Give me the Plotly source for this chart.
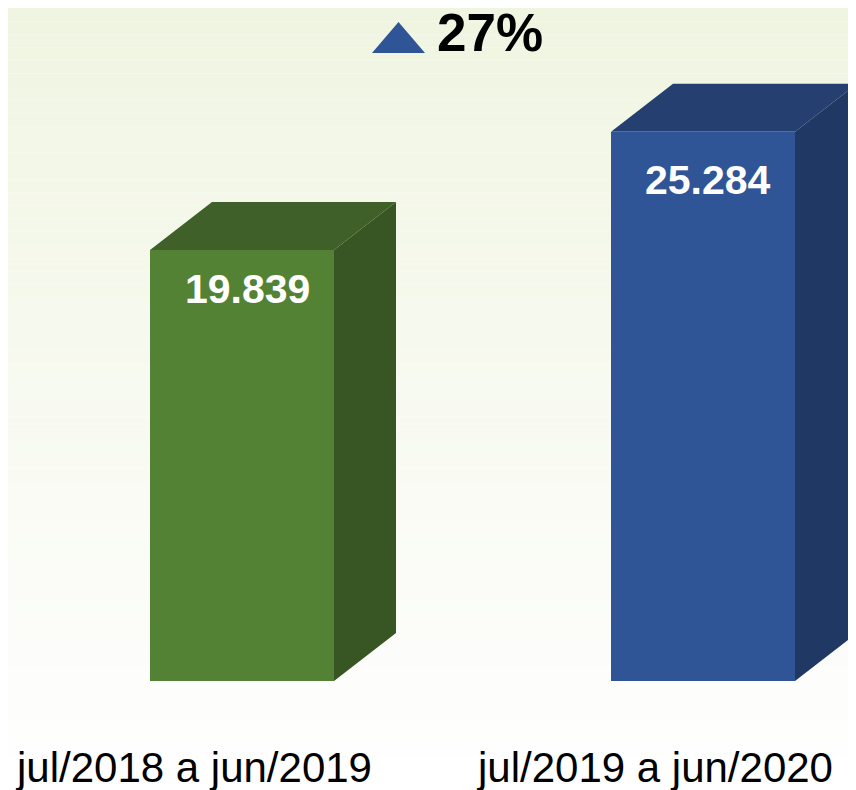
import plotly.graph_objects as go

categories = ["jul/2018 a jun/2019", "jul/2019 a jun/2020"]
values = [19839, 25284]
value_labels = ["19.839", "25.284"]
change_label = "27%"

front_colors = ["#548235", "#2F5597"]
top_colors = ["#3F6129", "#243F70"]
side_colors = ["#375623", "#203864"]

W, H = 856, 790
OFF = 8  # page body margin offset
px_x = 461.0
px_y = 431.0 / 19839.0
x0_page, y0_page = 242, 681
xr = [-(x0_page - OFF) / px_x, -(x0_page - OFF) / px_x + W / px_x]
yr = [-(H - (y0_page - OFF)) / px_y, (y0_page - OFF) / px_y]
bw = 184 / px_x
dx = 62 / px_x
dy = 48 / px_y

fig = go.Figure()
xs = list(range(len(categories)))

fig.add_trace(go.Bar(x=xs, y=values, width=bw, marker=dict(color=front_colors, line=dict(width=0)),
                     hoverinfo="skip", showlegend=False))

for i, v in enumerate(values):
    xl, xrgt = i - bw / 2, i + bw / 2
    fig.add_trace(go.Scatter(x=[xrgt, xrgt + dx, xrgt + dx, xrgt, xrgt],
                             y=[0, dy, v + dy, v, 0], fill="toself", mode="lines",
                             line=dict(width=0, color=side_colors[i]), fillcolor=side_colors[i],
                             hoverinfo="skip", showlegend=False))
    fig.add_trace(go.Scatter(x=[xl, xl + dx, xrgt + dx, xrgt, xl],
                             y=[v, v + dy, v + dy, v, v], fill="toself", mode="lines",
                             line=dict(width=0, color=top_colors[i]), fillcolor=top_colors[i],
                             hoverinfo="skip", showlegend=False))

label_shift = [-39, -48]
for i, v in enumerate(values):
    fig.add_annotation(x=i, y=v, text="<b>%s</b>" % value_labels[i], showarrow=False,
                       xshift=5, yshift=label_shift[i], yanchor="middle",
                       font=dict(family="Arial, Liberation Sans", size=41, color="white"))
    fig.add_annotation(x=i, y=0, text=categories[i], showarrow=False,
                       xshift=-49, yshift=-86, yanchor="middle",
                       font=dict(family="Arial, Liberation Sans", size=42, color="#000000"))

fig.add_annotation(xref="paper", yref="paper", x=(490 - OFF) / W, y=1 - (33 - OFF) / H,
                   text="<b>%s</b>" % change_label,
                   showarrow=False, yanchor="middle", xanchor="center",
                   font=dict(family="Arial, Liberation Sans", size=53, color="#000000"))

shapes = []
n = 60
top_rgb = (240, 245, 226)
bot_rgb = (255, 255, 255)
for k in range(n):
    t = k / (n - 1)
    c = tuple(round(top_rgb[j] + (bot_rgb[j] - top_rgb[j]) * t) for j in range(3))
    shapes.append(dict(type="rect", xref="paper", yref="paper", x0=0, x1=1,
                       y0=1 - (k + 1) / n, y1=1 - k / n, layer="below",
                       fillcolor="rgb(%d,%d,%d)" % c, line=dict(width=0)))
tx0, tx1 = (372 - OFF) / W, (425 - OFF) / W
ty0, ty1 = 1 - (53 - OFF) / H, 1 - (22 - OFF) / H
shapes.append(dict(type="path", xref="paper", yref="paper",
                   path="M %f %f L %f %f L %f %f Z" % (tx0, ty0, tx1, ty0, (tx0 + tx1) / 2, ty1),
                   fillcolor="#2F5597", line=dict(width=0)))

fig.update_layout(width=W, height=H, margin=dict(l=0, r=0, t=0, b=0),
                  paper_bgcolor="white", plot_bgcolor="rgba(0,0,0,0)", shapes=shapes,
                  xaxis=dict(range=xr, visible=False, fixedrange=True),
                  yaxis=dict(range=yr, visible=False, fixedrange=True),
                  bargap=0)

fig.write_html("out.html")
